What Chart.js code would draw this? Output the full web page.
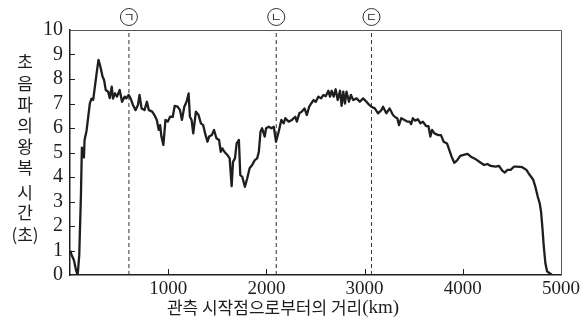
<!DOCTYPE html>
<html>
<head>
<meta charset="utf-8">
<script src="https://cdn.jsdelivr.net/npm/chart.js@4/dist/chart.umd.min.js"></script>
<style>
  html, body { margin: 0; padding: 0; background: #fff; }
  #wrap { width: 583px; height: 322px; }
</style>
</head>
<body>
<div id="wrap"><canvas id="chart" width="583" height="322"></canvas></div>
<script>
// distance from start of observation (km)
const distKm = [0, 10, 40, 61, 78, 94, 111, 121, 132, 142, 148, 169, 202, 219, 236, 270, 290, 310, 331, 347,
  364, 388, 405, 425, 438, 459, 479, 506, 530, 557, 574, 597, 617, 641, 668, 692, 708, 729, 759, 783,
  803, 837, 860, 884, 904, 918, 931, 951, 972, 995, 1019, 1046, 1066, 1096, 1120, 1140, 1164, 1187, 1208, 1221,
  1238, 1255, 1282, 1309, 1333, 1356, 1376, 1400, 1417, 1444, 1467, 1491, 1518, 1535, 1551, 1572, 1602, 1626, 1646, 1660,
  1680, 1697, 1720, 1734, 1754, 1781, 1805, 1829, 1855, 1882, 1906, 1923, 1940, 1956, 1983, 1997, 2024, 2051, 2075, 2098,
  2125, 2152, 2176, 2193, 2226, 2260, 2294, 2310, 2335, 2361, 2388, 2412, 2436, 2456, 2480, 2503, 2530, 2557, 2581, 2604,
  2631, 2648, 2665, 2685, 2705, 2726, 2750, 2766, 2783, 2800, 2816, 2841, 2861, 2884, 2918, 2952, 2985, 3019, 3045, 3069,
  3104, 3137, 3171, 3188, 3221, 3255, 3289, 3313, 3333, 3350, 3373, 3407, 3434, 3458, 3474, 3491, 3515, 3542, 3569, 3593,
  3626, 3650, 3670, 3687, 3711, 3751, 3778, 3805, 3839, 3863, 3886, 3913, 3940, 3974, 4008, 4048, 4082, 4133, 4183, 4217,
  4250, 4284, 4335, 4369, 4402, 4429, 4453, 4487, 4520, 4554, 4605, 4648, 4682, 4716, 4739, 4763, 4783, 4797, 4810, 4824,
  4841, 4858, 4885, 4908];

// ultrasonic round-trip time (s)
const roundTrip = [0.95, 0.88, 0.6, 0.2, 0.0, 0.8, 3.2, 5.2, 5.0, 4.8, 5.5, 5.9, 7.0, 7.2, 7.15, 8.2, 8.78, 8.5, 8.1, 7.96,
  7.55, 7.48, 7.22, 7.69, 7.2, 7.42, 7.28, 7.55, 7.07, 7.28, 7.21, 7.35, 7.21, 6.94, 6.73, 6.94, 7.35, 6.8, 6.73, 7.07,
  6.73, 6.67, 6.53, 6.33, 5.92, 6.12, 5.65, 5.31, 6.33, 6.26, 6.46, 6.45, 6.9, 6.87, 6.73, 6.33, 6.87, 7.07, 7.41, 6.46,
  6.33, 5.78, 6.67, 6.53, 6.19, 6.12, 5.78, 5.44, 5.65, 5.71, 5.92, 5.58, 5.51, 5.03, 5.17, 5.03, 4.9, 4.76, 3.63, 4.62,
  4.76, 5.37, 5.51, 4.08, 4.01, 3.6, 3.95, 4.36, 4.49, 4.69, 4.76, 5.03, 5.85, 5.99, 5.65, 5.99, 6.05, 5.99, 6.05, 5.44,
  5.85, 6.33, 6.19, 6.4, 6.26, 6.33, 6.46, 6.26, 6.6, 6.67, 6.8, 6.53, 6.87, 7.0, 7.14, 7.07, 7.28, 7.21, 7.35, 7.3,
  7.52, 7.28, 7.52, 7.28, 7.58, 7.14, 7.52, 6.9, 7.48, 7.0, 7.48, 7.07, 7.35, 7.14, 7.21, 7.07, 7.21, 7.07, 6.95, 6.87,
  6.8, 6.6, 6.73, 6.87, 6.6, 6.8, 6.53, 6.44, 6.4, 6.12, 6.4, 6.33, 6.26, 6.26, 6.16, 6.4, 6.3, 6.36, 6.19, 6.26,
  6.08, 6.08, 5.65, 5.92, 5.78, 5.71, 5.71, 5.44, 5.37, 5.1, 4.83, 4.58, 4.67, 4.86, 4.9, 4.94, 4.83, 4.72, 4.58, 4.49,
  4.53, 4.45, 4.42, 4.45, 4.26, 4.18, 4.29, 4.29, 4.42, 4.42, 4.4, 4.29, 4.08, 3.9, 3.6, 3.2, 2.93, 2.58, 1.97, 1.2,
  0.48, 0.15, 0.07, 0.0];

// dashed reference positions and their labels
const markerKm = [600, 2100, 3070];
const markerLabels = ["ㄱ", "ㄴ", "ㄷ"];

const xTicks = [0, 1000, 2000, 3000, 4000, 5000];
const yTicks = [0, 1, 2, 3, 4, 5, 6, 7, 8, 9, 10];

const xTitle = "관측 시작점으로부터의 거리";
const xTitleUnit = "(km)";
// vertical y title, one glyph group per row
const yTitleChars = ["초", "음", "파", "의", "왕", "복", "시", "간", "(초)"];
const yTitleRows = [62, 84, 105, 126, 147, 168, 193, 213, 235];

const SERIF = "'Liberation Serif', 'DejaVu Serif', serif";
const KR = "'Noto Sans CJK KR', 'Noto Sans', sans-serif";
const INK = "#1e1e1e";

const lineData = distKm.map((d, i) => ({ x: d, y: roundTrip[i] }));

const markerSets = markerKm.map(km => ({
  data: [{ x: km, y: 0 }, { x: km, y: 10 }],
  borderColor: "#333",
  borderWidth: 1,
  borderDash: [4, 3],
  pointRadius: 0,
  fill: false
}));

const decor = {
  id: "decor",
  afterDraw(chart) {
    const { ctx, chartArea: a, scales: { x, y } } = chart;
    ctx.save();

    // top and right frame
    ctx.strokeStyle = "#555";
    ctx.lineWidth = 1;
    ctx.beginPath();
    ctx.moveTo(a.left, a.top + 0.5);
    ctx.lineTo(a.right + 0.5, a.top + 0.5);
    ctx.lineTo(a.right + 0.5, a.bottom);
    ctx.stroke();

    // inward tick marks
    ctx.strokeStyle = INK;
    ctx.lineWidth = 1;
    ctx.beginPath();
    yTicks.slice(1, -1).forEach(v => {
      const py = Math.round(y.getPixelForValue(v)) + 0.5;
      ctx.moveTo(a.left, py);
      ctx.lineTo(a.left + 5, py);
    });
    xTicks.slice(1, -1).forEach(v => {
      const px = Math.round(x.getPixelForValue(v)) + 0.5;
      ctx.moveTo(px, a.bottom);
      ctx.lineTo(px, a.bottom - 6);
    });
    ctx.stroke();

    // circled labels above the dashed lines
    markerKm.forEach((km, i) => {
      const px = x.getPixelForValue(km);
      const cy = a.top - 13;
      ctx.beginPath();
      ctx.arc(px, cy, 8.5, 0, Math.PI * 2);
      ctx.lineWidth = 1;
      ctx.strokeStyle = "#333";
      ctx.stroke();
      ctx.fillStyle = INK;
      ctx.font = "12px " + KR;
      ctx.textAlign = "center";
      ctx.textBaseline = "middle";
      ctx.fillText(markerLabels[i], px, cy + 0.5);
    });

    // x axis title
    ctx.fillStyle = INK;
    ctx.textBaseline = "middle";
    ctx.textAlign = "left";
    ctx.font = "17px " + KR;
    const w1 = ctx.measureText(xTitle).width;
    ctx.font = "19px " + SERIF;
    const w2 = ctx.measureText(xTitleUnit).width;
    let tx = 283 - (w1 + w2) / 2;
    ctx.font = "17px " + KR;
    ctx.fillText(xTitle, tx, 308);
    ctx.font = "19px " + SERIF;
    ctx.fillText(xTitleUnit, tx + w1, 308);

    // y axis title, stacked
    ctx.textAlign = "center";
    ctx.font = "17px " + KR;
    yTitleChars.forEach((c, i) => {
      ctx.fillText(c, 25, yTitleRows[i]);
    });

    ctx.restore();
  }
};

new Chart(document.getElementById("chart"), {
  type: "line",
  data: {
    datasets: [
      {
        data: lineData,
        borderColor: INK,
        borderWidth: 2.3,
        borderJoinStyle: "round",
        pointRadius: 0,
        tension: 0,
        fill: false
      },
      ...markerSets
    ]
  },
  options: {
    responsive: false,
    animation: false,
    devicePixelRatio: 1,
    layout: { padding: { left: 0, top: 30, right: 19, bottom: 0 } },
    plugins: { legend: { display: false }, tooltip: { enabled: false } },
    scales: {
      x: {
        type: "linear",
        min: 0,
        max: 5000,
        afterFit: s => { s.height = 47; },
        afterBuildTicks: s => { s.ticks = xTicks.map(v => ({ value: v })); },
        grid: { display: false, drawTicks: false },
        border: { display: true, color: INK, width: 1.5 },
        ticks: {
          padding: 3,
          autoSkip: false,
          color: INK,
          font: { family: SERIF, size: 19 },
          maxRotation: 0,
          callback: v => (v === 0 ? "" : String(v))
        }
      },
      y: {
        min: 0,
        max: 10,
        afterFit: s => { s.width = 70; },
        afterBuildTicks: s => { s.ticks = yTicks.map(v => ({ value: v })); },
        grid: { display: false, drawTicks: false },
        border: { display: true, color: INK, width: 1.5 },
        ticks: {
          padding: 7,
          autoSkip: false,
          color: INK,
          font: { family: SERIF, size: 20 },
          callback: v => String(v)
        }
      }
    }
  },
  plugins: [decor]
});
</script>
</body>
</html>
